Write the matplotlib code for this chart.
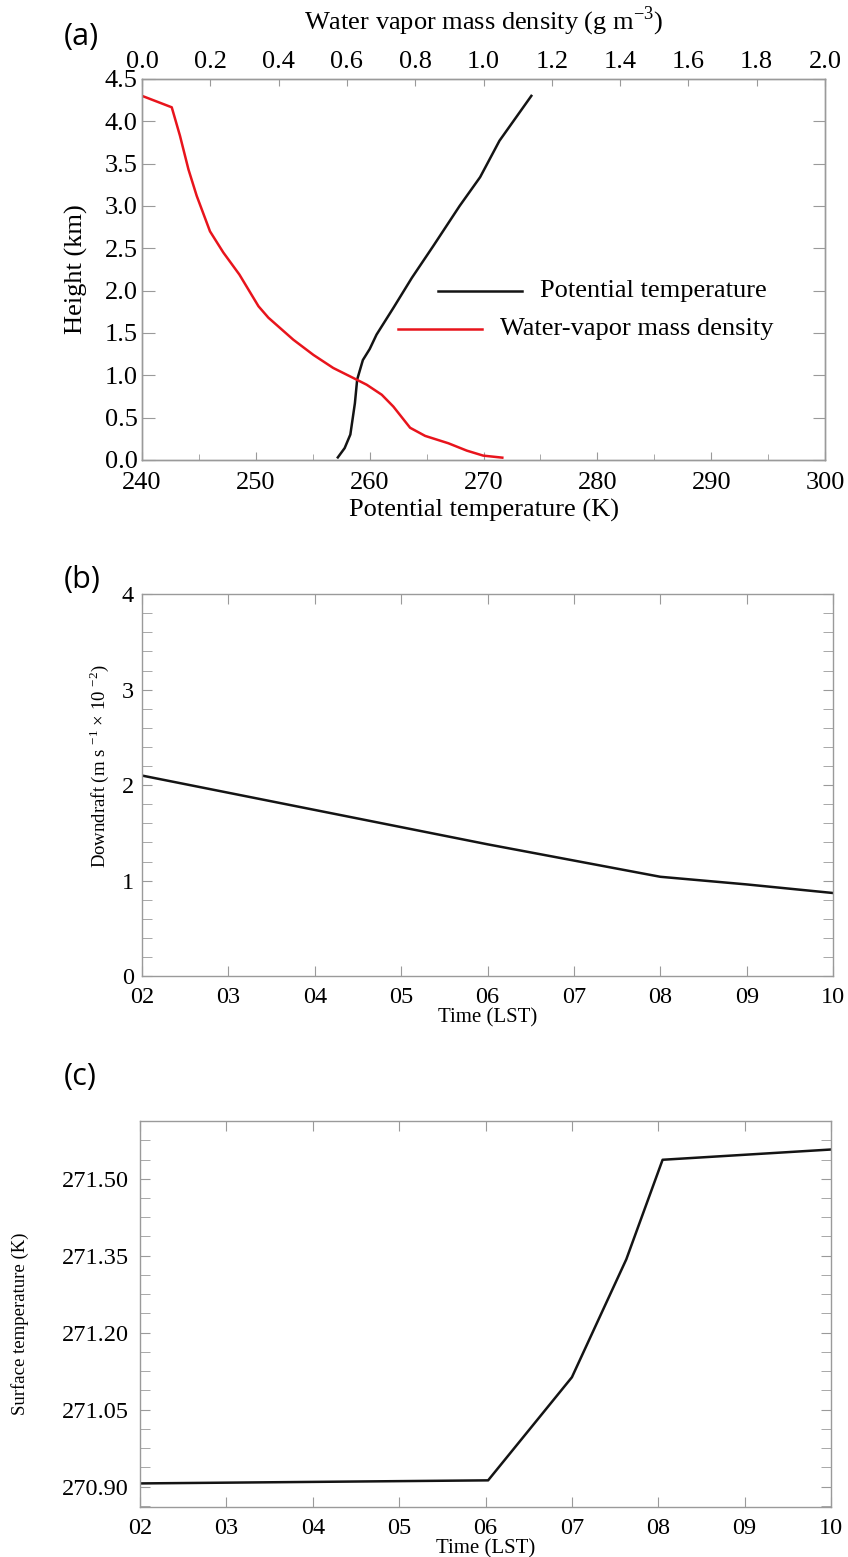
import matplotlib
matplotlib.use("Agg")
import matplotlib.pyplot as plt
from matplotlib.ticker import MultipleLocator, FixedLocator, FormatStrFormatter

plt.rcParams['font.family'] = ['Liberation Serif', 'DejaVu Serif']
plt.rcParams['mathtext.fontset'] = 'custom'
plt.rcParams['mathtext.rm'] = 'Liberation Serif'

# ---------------- data ----------------
# (a) potential temperature profile (K) vs height (km)
theta_K = [257.2, 257.8, 258.3, 258.7, 258.9, 259.4, 260.0, 260.6, 262.1,
           263.7, 265.6, 267.9, 269.7, 271.4, 274.2]
theta_h = [0.03, 0.14, 0.30, 0.67, 0.95, 1.18, 1.31, 1.48, 1.80,
           2.15, 2.53, 3.00, 3.34, 3.77, 4.30]
# (a) water-vapour mass density (g m-3) vs height (km)
wv_rho = [0.0, 0.087, 0.111, 0.136, 0.160, 0.199, 0.238, 0.285, 0.341, 0.370,
          0.443, 0.502, 0.560, 0.629, 0.658, 0.702, 0.736, 0.785, 0.829,
          0.897, 0.951, 0.999, 1.055]
wv_h = [4.30, 4.165, 3.83, 3.43, 3.12, 2.70, 2.45, 2.19, 1.815, 1.68,
        1.42, 1.24, 1.086, 0.947, 0.888, 0.77, 0.63, 0.38, 0.284,
        0.197, 0.11, 0.051, 0.027]
# (b) downdraft (m s-1 x 10^-2) vs time
time_b = [2, 3, 4, 5, 6, 7, 8, 9, 10]
downdraft = [2.10, 1.92, 1.74, 1.56, 1.38, 1.21, 1.04, 0.96, 0.87]
# (c) surface temperature (K) vs time
time_c = [2.0, 6.03, 7.0, 7.63, 8.05, 10.0]
surf_T = [270.906, 270.912, 271.113, 271.343, 271.537, 271.557]

hour_ticks = [2, 3, 4, 5, 6, 7, 8, 9, 10]
hour_labels = ['02', '03', '04', '05', '06', '07', '08', '09', '10']

GRAY = '#9a9a9a'
RED = '#e8141c'
BLACK = '#141414'

fig = plt.figure(figsize=(8.48, 15.57), dpi=100)

def style_spines(ax):
    for s in ax.spines.values():
        s.set_color(GRAY)
        s.set_linewidth(1.0)

# ---------------- panel (a) ----------------
axa = fig.add_axes([0.1675, 0.7046, 0.8054, 0.2447])
axa.plot(theta_K, theta_h, color=BLACK, lw=1.8)
axa.set_xlim(240, 300)
axa.set_ylim(0, 4.5)
axa.xaxis.set_major_locator(MultipleLocator(10))
axa.xaxis.set_minor_locator(MultipleLocator(5))
axa.yaxis.set_major_locator(MultipleLocator(0.5))
axa.yaxis.set_major_formatter(FormatStrFormatter('%.1f'))
axa.tick_params(axis='x', which='major', direction='in', length=6, color=GRAY,
                labelsize=19, pad=9, top=False)
axa.tick_params(axis='x', which='minor', direction='in', length=4, color=GRAY, top=False)
axa.tick_params(axis='y', which='major', direction='in', length=9, color=GRAY,
                labelsize=19, pad=3, right=True)
axa.set_xlabel('Potential temperature (K)', fontsize=19, labelpad=3)
axa.set_ylabel('Height (km)', fontsize=19, labelpad=12)
style_spines(axa)

axa2 = axa.twiny()
axa2.plot(wv_rho, wv_h, color=RED, lw=1.8)
axa2.set_xlim(0, 2.0)
axa2.xaxis.set_major_locator(MultipleLocator(0.2))
axa2.xaxis.set_major_formatter(FormatStrFormatter('%.1f'))
axa2.tick_params(axis='x', which='major', direction='in', length=5, color=GRAY,
                 labelsize=19, pad=4)
axa2.set_xlabel('Water vapor mass density (g m$^{-3}$)', fontsize=19, labelpad=16)
style_spines(axa2)

# legend drawn in axes coordinates
axa.plot([0.4334, 0.5564], [0.4436, 0.4436], color=BLACK, lw=1.8,
         transform=axa.transAxes)
axa.text(0.5827, 0.4436, 'Potential temperature', transform=axa.transAxes,
         fontsize=19, va='center', ha='left')
axa.plot([0.3748, 0.4978], [0.3438, 0.3438], color=RED, lw=1.8,
         transform=axa.transAxes)
axa.text(0.5242, 0.3438, 'Water-vapor mass density', transform=axa.transAxes,
         fontsize=19, va='center', ha='left')

# ---------------- panel (b) ----------------
axb = fig.add_axes([0.1675, 0.3731, 0.8149, 0.2453])
axb.plot(time_b, downdraft, color=BLACK, lw=1.8)
axb.set_xlim(2, 10)
axb.set_ylim(0, 4)
axb.xaxis.set_major_locator(FixedLocator(hour_ticks))
axb.set_xticklabels(hour_labels)
axb.yaxis.set_major_locator(MultipleLocator(1))
axb.yaxis.set_minor_locator(MultipleLocator(0.2))
axb.tick_params(axis='x', which='major', direction='in', length=7, color=GRAY,
                labelsize=17.5, pad=8, top=True)
axb.tick_params(axis='y', which='both', direction='in', length=7, color=GRAY,
                labelsize=17.5, pad=6, right=True)
axb.set_xlabel('Time (LST)', fontsize=15, labelpad=0)
axb.set_ylabel('Downdraft (m s $^{-1}$ $\\times$ 10 $^{-2}$)', fontsize=13.5)
axb.yaxis.set_label_coords(-0.045, 0.55)
style_spines(axb)

# ---------------- panel (c) ----------------
axc = fig.add_axes([0.1651, 0.0321, 0.8149, 0.2479])
axc.plot(time_c, surf_T, color=BLACK, lw=1.8)
axc.set_xlim(2, 10)
axc.set_ylim(270.86, 271.6125)
axc.xaxis.set_major_locator(FixedLocator(hour_ticks))
axc.set_xticklabels(hour_labels)
axc.yaxis.set_major_locator(FixedLocator([270.90, 271.05, 271.20, 271.35, 271.50]))
axc.yaxis.set_major_formatter(FormatStrFormatter('%.2f'))
axc.yaxis.set_minor_locator(MultipleLocator(0.0375))
axc.tick_params(axis='x', which='major', direction='in', length=7, color=GRAY,
                labelsize=17.5, pad=8, top=True)
axc.tick_params(axis='y', which='both', direction='in', length=7, color=GRAY,
                labelsize=17.5, pad=8, right=True)
axc.set_xlabel('Time (LST)', fontsize=15, labelpad=0)
axc.set_ylabel('Surface temperature (K)', fontsize=13.5, labelpad=22)
axc.yaxis.set_label_coords(-0.16, 0.475)
style_spines(axc)

# panel letters
for y, lab in [(0.976, '(a)'), (0.6275, '(b)'), (0.308, '(c)')]:
    fig.text(0.075, y, lab, fontsize=22, family=['Open Sans', 'DejaVu Sans'],
             va='center', ha='left')

fig.savefig('out.png', dpi=100)
